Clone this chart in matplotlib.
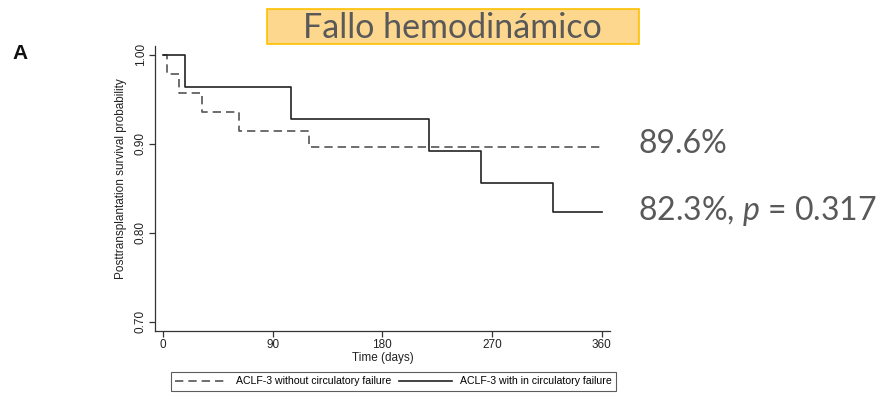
import matplotlib
matplotlib.use("Agg")
import matplotlib.pyplot as plt
from matplotlib.patches import Rectangle

# Kaplan-Meier step data (time in days, survival probability)
t_without = [0, 3, 13, 32, 62, 120, 360]
s_without = [1.00, 0.979, 0.957, 0.936, 0.915, 0.896, 0.896]
t_with = [0, 18, 105, 218, 261, 320, 360]
s_with = [1.00, 0.964, 0.928, 0.892, 0.856, 0.823, 0.823]

label_without = "ACLF-3 without circulatory failure"
label_with = "ACLF-3 with in circulatory failure"
xticks = [0, 90, 180, 270, 360]
yticks = [0.70, 0.80, 0.90, 1.00]
title = "Fallo hemodinámico"
note_without = "89.6%"
note_with = "82.3%, $\\it{p}$ = 0.317"

plt.rcParams["font.family"] = ["Liberation Sans", "DejaVu Sans"]
plt.rcParams["mathtext.fontset"] = "custom"
plt.rcParams["mathtext.it"] = "Lato:italic"

W, H = 893, 400


def fx(px):
    return px / W


def fy(py):
    return 1 - py / H


fig = plt.figure(figsize=(W / 100, H / 100), dpi=100)
ax = fig.add_axes([fx(155), fy(330.7), fx(610) - fx(155), fy(46) - fy(330.7)])

l1, = ax.step(t_without, s_without, where="post", color="#555555",
              lw=1.2, linestyle=(0, (5, 3)), label=label_without)
l2, = ax.step(t_with, s_with, where="post", color="#222222",
              lw=1.2, label=label_with)

ax.set_xlim(-6.6, 366.8)
ax.set_ylim(0.690, 1.010)
ax.set_xticks(xticks)
ax.set_yticks(yticks)
ax.set_yticklabels([f"{v:.2f}" for v in yticks], rotation=90, va="center")
ax.tick_params(labelsize=8.5, length=4, width=0.9, color="#333333",
               labelcolor="#222222", pad=2)
for side in ("top", "right"):
    ax.spines[side].set_visible(False)
for side in ("left", "bottom"):
    ax.spines[side].set_linewidth(0.9)
    ax.spines[side].set_color("#333333")
ax.set_xlabel("Time (days)", fontsize=8.5, color="#222222", labelpad=1)
fig.text(fx(121), fy(179), "Posttransplantation survival probability",
         fontsize=8.5, color="#222222", rotation=90, ha="center", va="center")

leg = fig.legend(handles=[l1, l2], loc="center", ncol=2,
                 bbox_to_anchor=(fx(393.5), fy(381.5)), fontsize=7.6,
                 frameon=True, fancybox=False, edgecolor="#333333",
                 handlelength=5.0, columnspacing=0.75, borderpad=0.45,
                 handletextpad=0.75, borderaxespad=0)
leg.get_frame().set_linewidth(0.8)

# Panel letter
fig.text(fx(12), fy(59), "A", fontsize=15, fontweight="bold",
         color="#111111", ha="left", va="baseline")

# Title banner
fig.patches.append(Rectangle((fx(267.3), fy(44)), fx(639) - fx(267.3),
                             fy(9.3) - fy(44), transform=fig.transFigure,
                             facecolor="#FDD78E", edgecolor="#FFC000", lw=1.2))
fig.text(fx(452.5), fy(38.3), title, fontsize=24.5, color="#595959",
         ha="center", va="baseline", family=["Lato", "DejaVu Sans"])

# Survival annotations at the end of each curve
fig.text(fx(638), fy(153.3), note_without, fontsize=23, color="#595959",
         ha="left", va="baseline", family=["Lato", "DejaVu Sans"])
fig.text(fx(638), fy(220), note_with, fontsize=23, color="#595959",
         ha="left", va="baseline", family=["Lato", "DejaVu Sans"])

fig.savefig("out.png", dpi=100)
